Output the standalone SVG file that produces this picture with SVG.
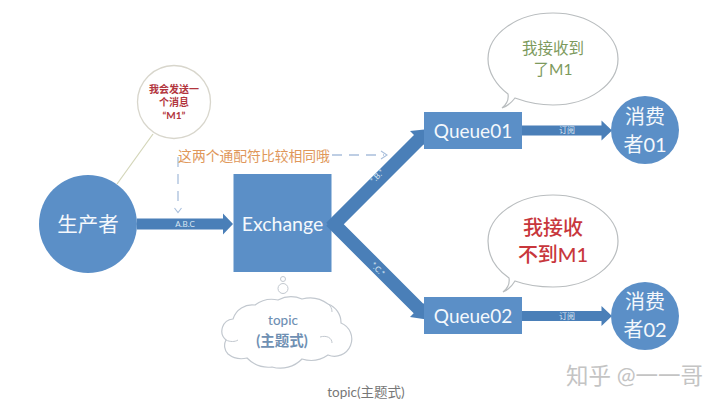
<svg xmlns="http://www.w3.org/2000/svg" width="720" height="404" viewBox="0 0 720 404">
  <style>
    text { font-family: "Lato", "Noto Sans CJK SC", sans-serif; text-anchor: middle; dominant-baseline: central; }
    .shape { fill: #5b8fc7; }
    .flow { fill: #4a7fb8; }
    .white { fill: #f4f8fc; }
    .tiny { fill: #dbe7f3; font-size: 8px; }
    .note { fill: #ffffff; stroke: #b9bdbf; stroke-width: 1.2; }
    .dash { fill: none; stroke: #a9bfdc; stroke-width: 1.3; stroke-dasharray: 10 7; }
    .tip { fill: none; stroke: #a9bfdc; stroke-width: 1.1; }
  </style>
  <rect width="720" height="404" fill="#ffffff"/>

  <g id="producer">
    <circle class="shape" cx="88" cy="224" r="49"/>
    <text class="white" x="88" y="224" font-size="20.500">生产者</text>
  </g>

  <g id="exchange">
    <rect class="shape" x="233.500" y="174" width="98" height="98"/>
    <text class="white" x="282.500" y="223.500" font-size="19.500">Exchange</text>
  </g>

  <g id="connectors">
    <path class="flow" d="M137 218.500H223V213.500L233 224L223 234.500V229.500H137Z"/>
    <path class="flow" d="M326.200 222.700L414 135L410 131L429 129L427.500 148.500L423.500 144.500L335.800 232.300Z"/>
    <path class="flow" d="M335.800 216.200L423.300 303.700L427 300L430 320L410 317L413.700 313.300L326.200 225.800Z"/>
    <path class="flow" d="M522 125.500H601.500V120.500L612 130.500L601.500 140.500V135.500H522Z"/>
    <path class="flow" d="M522 311H601.500V306L612 316L601.500 326V321H522Z"/>
    <text class="tiny" x="185" y="224">A.B.C</text>
    <text class="tiny" x="567" y="130">订阅</text>
    <text class="tiny" x="567" y="316">订阅</text>
    <text class="tiny" transform="translate(377 176) rotate(-45)">*.B.*</text>
    <text class="tiny" transform="translate(378 269) rotate(45)">*.C.*</text>
    <path d="M153 134L117 184" fill="none" stroke="#d3d5b8" stroke-width="1.200"/>
    <path class="dash" d="M178 157V208"/>
    <path class="tip" d="M174.500 208L178 212.500L181.500 208"/>
    <path class="dash" d="M332 155H384"/>
    <path class="tip" d="M381 151L387 155L381 159"/>
  </g>

  <g id="message-note">
    <circle cx="174" cy="102" r="36.500" fill="#ffffff" stroke="#d8d6cc" stroke-width="1.300"/>
    <g fill="#b2353d" font-size="10" font-weight="700">
      <text x="174" y="89">我会发送一</text>
      <text x="174" y="101.500">个消息</text>
      <text x="174" y="114.500">“M1”</text>
    </g>
  </g>

  <g id="wildcard-note">
    <text x="254" y="155.500" font-size="13.800" fill="#e0975a">这两个通配符比较相同哦</text>
  </g>

  <g id="topic-cloud">
    <circle cx="283" cy="288.500" r="5" fill="#ffffff" stroke="#c2c8cf" stroke-width="1"/>
    <circle cx="283" cy="279" r="2.500" fill="#ffffff" stroke="#c2c8cf" stroke-width="1"/>
    <path d="M233 319A20 20 0 0 1 255 305A28 28 0 0 1 278 300A28 28 0 0 1 302 299A30 30 0 0 1 328 304A20 20 0 0 1 341 323A15 15 0 0 1 328 355A30 30 0 0 1 302 359A30 30 0 0 1 272 367A30 30 0 0 1 247 358A22 22 0 0 1 228 354A12 12 0 0 1 226 340A12 12 0 0 1 233 319Z" fill="#ffffff" stroke="#c2c8cf" stroke-width="1.200"/>
    <path d="M226 340C230 342 235 342 238 340M320 337C327 335 332 338 332 343M328 304C331 306 332 309 332 312" fill="none" stroke="#c2c8cf" stroke-width="1"/>
    <text x="283" y="320" font-size="13.500" font-weight="500" fill="#6f90b3">topic</text>
    <text x="282" y="340" font-size="14.500" font-weight="700" fill="#6f90b3">(主题式)</text>
  </g>

  <g id="queue01">
    <rect class="shape" x="424" y="112" width="98" height="37"/>
    <text class="white" x="473" y="130.500" font-size="19">Queue01</text>
  </g>

  <g id="queue02">
    <rect class="shape" x="424" y="297" width="98" height="37"/>
    <text class="white" x="473" y="315.500" font-size="19">Queue02</text>
  </g>

  <g id="consumer01">
    <circle class="shape" cx="645" cy="130" r="34"/>
    <text class="white" x="645" y="116" font-size="20">消费</text>
    <text class="white" x="645" y="143.500" font-size="20">者01</text>
  </g>

  <g id="consumer02">
    <circle class="shape" cx="645" cy="316" r="34"/>
    <text class="white" x="645" y="301" font-size="20">消费</text>
    <text class="white" x="645" y="329" font-size="20">者02</text>
  </g>

  <g id="bubble-received">
    <path class="note" d="M502 108C507 104 509 100 508 94C496 85 488 72 488 59C488 34 517 13 553 13C589 13 618 34 618 59C618 84 589 105 553 105C539 105 526 102 515 98C512 102 508 106 502 108Z"/>
    <text x="553" y="48" font-size="15.500" fill="#7d9a5c">我接收到</text>
    <text x="553" y="68.500" font-size="15.500" fill="#7d9a5c">了M1</text>
  </g>

  <g id="bubble-rejected">
    <path class="note" d="M503 292C508 288 510 284 509 278C496 269 488 256 488 241C488 216 517 195 553 195C589 195 618 216 618 241C618 266 589 287 553 287C539 287 526 285 515 281C512 286 508 290 503 292Z"/>
    <text x="553" y="226.500" font-size="20" font-weight="500" fill="#c8373c">我接收</text>
    <text x="553" y="254" font-size="20" font-weight="500" fill="#c8373c">不到M1</text>
  </g>

  <g id="captions">
    <text x="366" y="392" font-size="13.500" fill="#777777">topic(主题式)</text>
    <text x="634.500" y="375" font-size="22.500" fill="#c4c4c4">知乎 @一一哥</text>
  </g>
</svg>
